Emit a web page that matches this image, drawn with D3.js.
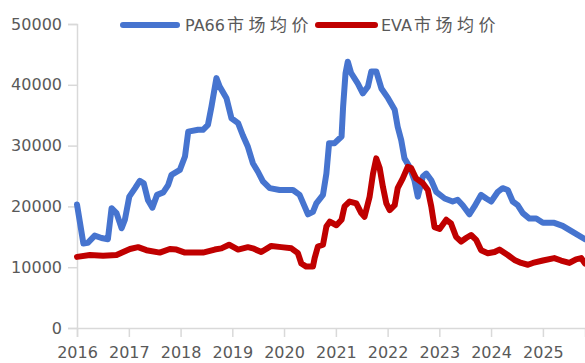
<!DOCTYPE html>
<html>
<head>
<meta charset="utf-8">
<script src="https://cdn.jsdelivr.net/npm/d3@7"></script>
<style>
  html, body { margin: 0; padding: 0; background: #fff; }
  svg { display: block; }
  text { font-family: "DejaVu Sans", "Noto Sans CJK SC", sans-serif; fill: #595959; }
</style>
</head>
<body>
<svg id="chart" width="585" height="363"></svg>
<script>
// PA66 market average price (yuan/ton)
const pa66Dates = [
  "2016-01-01","2016-02-15","2016-03-17","2016-05-05","2016-06-22","2016-08-06","2016-09-01","2016-10-06",
  "2016-11-11","2016-12-04","2017-01-04","2017-02-14","2017-03-19","2017-04-16","2017-05-16","2017-06-16",
  "2017-07-19","2017-09-01","2017-10-05","2017-10-29","2017-12-27","2018-02-01","2018-02-24","2018-05-04",
  "2018-06-08","2018-07-13","2018-08-07","2018-09-11","2018-10-04","2018-11-21","2018-12-26","2019-02-11",
  "2019-03-16","2019-04-21","2019-05-26","2019-07-01","2019-08-05","2019-09-22","2019-12-01","2020-03-04",
  "2020-04-20","2020-05-25","2020-06-18","2020-07-23","2020-08-16","2020-10-02","2020-10-26","2020-11-14",
  "2020-12-23","2021-02-10","2021-02-21","2021-03-10","2021-03-26","2021-04-19","2021-06-05","2021-07-10",
  "2021-08-15","2021-09-08","2021-10-13","2021-11-18","2022-01-04","2022-02-20","2022-03-13","2022-04-07",
  "2022-04-30","2022-06-04","2022-07-09","2022-08-02","2022-09-07","2022-10-01","2022-11-05","2022-12-10",
  "2023-02-08","2023-04-05","2023-05-10","2023-06-15","2023-08-01","2023-09-06","2023-10-23","2023-11-28",
  "2024-01-02","2024-02-18","2024-03-23","2024-04-28","2024-06-02","2024-07-07","2024-08-12","2024-09-28",
  "2024-11-15","2025-01-01","2025-03-22","2025-05-20","2025-07-30","2025-10-25"
];
const pa66Values = [
  20300,13900,14000,15200,14800,14600,19700,18900,
  16400,17800,21600,23000,24200,23800,21000,19800,
  21900,22300,23500,25200,26000,28200,32300,32600,
  32600,33400,36400,41100,39700,37800,34500,33700,
  31700,29800,27100,25700,24100,23000,22700,22700,
  21900,20000,18700,19100,20500,21900,25400,30400,
  30400,31500,36400,41900,43800,41900,40200,38600,
  39700,42200,42200,39400,37800,35900,33100,30900,
  27900,26500,24300,21600,24900,25400,24300,22400,
  21300,20800,21100,20200,18700,20000,21900,21300,
  20800,22400,23000,22700,20800,20200,18900,18000,
  18000,17300,17300,16800,15800,14600
];

// EVA market average price (yuan/ton)
const evaDates = [
  "2016-01-01","2016-04-01","2016-07-03","2016-10-06","2016-11-22","2017-01-09","2017-03-07","2017-05-05",
  "2017-08-07","2017-10-17","2017-12-03","2018-02-01","2018-05-04","2018-06-08","2018-08-30","2018-10-16",
  "2018-12-09","2019-02-11","2019-04-21","2019-05-26","2019-07-24","2019-10-03","2019-12-13","2020-02-22",
  "2020-04-08","2020-05-02","2020-06-06","2020-07-23","2020-08-04","2020-08-27","2020-10-02","2020-10-26",
  "2020-11-19","2021-01-05","2021-02-10","2021-03-03","2021-04-08","2021-05-25","2021-06-29","2021-07-22",
  "2021-08-27","2021-09-20","2021-10-13","2021-11-06","2021-11-29","2021-12-23","2022-01-16","2022-02-20",
  "2022-03-13","2022-04-18","2022-05-23","2022-06-16","2022-07-21","2022-09-07","2022-10-12","2022-11-05",
  "2022-11-28","2023-01-03","2023-02-19","2023-03-24","2023-04-29","2023-06-04","2023-07-09","2023-08-13",
  "2023-09-18","2023-10-23","2023-12-09","2024-01-26","2024-02-29","2024-04-28","2024-06-14","2024-08-01",
  "2024-09-17","2024-10-22","2025-01-01","2025-03-22","2025-05-09","2025-07-07","2025-08-23","2025-09-28",
  "2025-10-25"
];
const evaValues = [
  11700,12000,11900,12000,12500,13000,13300,12800,
  12400,13000,12900,12400,12400,12400,12900,13100,
  13700,12900,13300,13100,12500,13500,13300,13100,
  12300,10600,10100,10100,11500,13400,13700,16700,
  17500,16900,17800,20000,20800,20500,18900,18300,
  21600,25400,27900,26300,23200,20500,19400,20200,
  23000,24600,26500,26300,24600,23800,22700,20000,
  16600,16300,17800,17200,15000,14200,14800,15300,
  14500,12800,12300,12500,12900,12000,11200,10700,
  10400,10700,11100,11500,11100,10700,11300,11500,
  10600
];

const seriesNames = ["PA66市场均价", "EVA市场均价"];
const seriesColors = ["#4674cf", "#c00000"];
const yTicks = [0, 10000, 20000, 30000, 40000, 50000];
const yearTicks = ["2016","2017","2018","2019","2020","2021","2022","2023","2024","2025"];

const parse = d3.timeParse("%Y-%m-%d");
const series = [
  { name: seriesNames[0], color: seriesColors[0], data: pa66Dates.map((d, i) => ({ date: parse(d), value: pa66Values[i] })) },
  { name: seriesNames[1], color: seriesColors[1], data: evaDates.map((d, i) => ({ date: parse(d), value: evaValues[i] })) }
];

const svg = d3.select("#chart");
const margin = { left: 77, right: 0, top: 24, bottom: 35 };
const W = 585, H = 363;

const x = d3.scaleTime()
  .domain([parse("2016-01-01"), parse("2025-10-25")])
  .range([margin.left, W - margin.right]);
const y = d3.scaleLinear()
  .domain([0, 50000])
  .range([H - margin.bottom, margin.top]);

const axisColor = "#d9d9d9";

// y axis
const yAxis = svg.append("g")
  .attr("transform", `translate(${margin.left},0)`)
  .call(d3.axisLeft(y).tickValues(yTicks).tickSize(9).tickPadding(6).tickFormat(d3.format("d")));
yAxis.select(".domain").attr("stroke", axisColor).attr("stroke-width", 1.5);
yAxis.selectAll(".tick line").attr("stroke", axisColor).attr("stroke-width", 1.5);
yAxis.selectAll(".tick text").attr("font-size", 16).attr("fill", "#595959")
  .style("font-family", "'DejaVu Sans', sans-serif");

// x axis
const xAxis = svg.append("g")
  .attr("transform", `translate(0,${H - margin.bottom})`)
  .call(d3.axisBottom(x).tickValues(yearTicks.map(t => parse(t + "-01-01"))).tickSize(9).tickPadding(10)
    .tickFormat(d3.timeFormat("%Y")));
xAxis.select(".domain").attr("stroke", axisColor).attr("stroke-width", 1.5);
xAxis.selectAll(".tick line").attr("stroke", axisColor).attr("stroke-width", 1.5);
xAxis.selectAll(".tick text").attr("font-size", 16).attr("fill", "#595959")
  .style("font-family", "'DejaVu Sans', sans-serif");

// lines
const line = d3.line()
  .x(d => x(d.date))
  .y(d => y(d.value))
  .curve(d3.curveLinear);

svg.append("g").selectAll("path")
  .data(series)
  .join("path")
  .attr("d", d => line(d.data))
  .attr("fill", "none")
  .attr("stroke", d => d.color)
  .attr("stroke-width", 6)
  .attr("stroke-linejoin", "round")
  .attr("stroke-linecap", "round");

// legend
const legendItems = [
  { x0: 123, x1: 177, tx: 185 },
  { x0: 318, x1: 375, tx: 381 }
];
const legend = svg.append("g");
series.forEach((s, i) => {
  const li = legendItems[i];
  legend.append("line")
    .attr("x1", li.x0).attr("x2", li.x1)
    .attr("y1", 25).attr("y2", 25)
    .attr("stroke", s.color).attr("stroke-width", 6).attr("stroke-linecap", "round");
  const latin = s.name.match(/^[A-Za-z0-9]+/)[0];
  const rest = s.name.slice(latin.length);
  const t = legend.append("text")
    .attr("x", li.tx).attr("y", 31)
    .attr("font-size", 16).attr("fill", "#595959");
  t.append("tspan").text(latin);
  t.append("tspan").attr("dx", 2).attr("letter-spacing", 4.5).attr("font-size", 17).text(rest);
});
</script>
</body>
</html>
